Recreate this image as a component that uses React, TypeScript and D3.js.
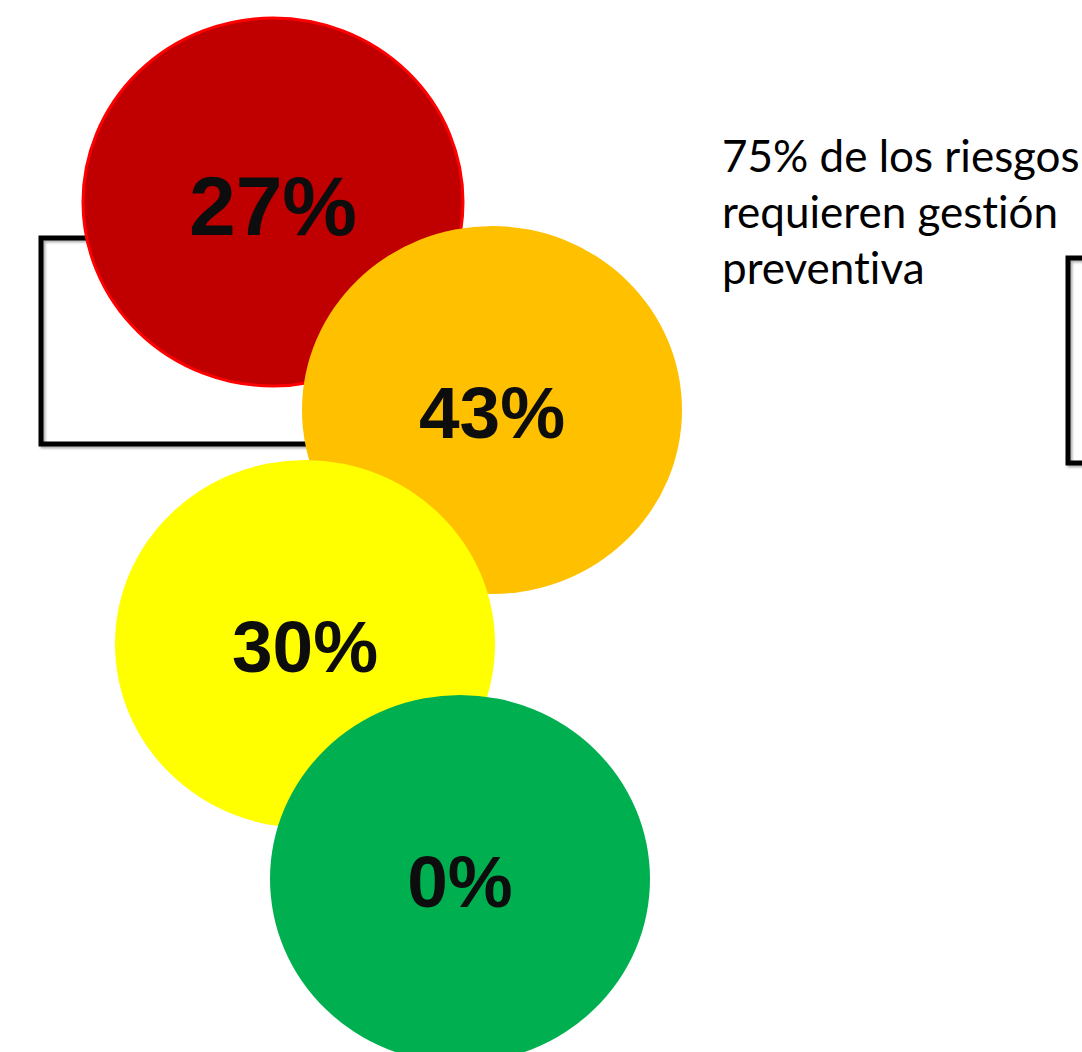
import { useEffect, useRef } from "react";
import * as d3 from "d3";

const WIDTH = 1082;
const HEIGHT = 1052;

// risk levels, top to bottom
const levels = ["Alto", "Medio-alto", "Medio", "Bajo"];
const shares = [0.27, 0.43, 0.3, 0.0];
const fills = ["#c00000", "#ffc000", "#ffff00", "#00b050"];
const strokes = ["#ff0000", "none", "none", "none"];
const labelSizes = [84, 73, 73, 73];

const noteLines = ["75% de los riesgos", "requieren gestión", "preventiva"];

export default function App() {
  const svgRef = useRef<SVGSVGElement>(null);

  useEffect(() => {
    if (!svgRef.current) return;
    const svg = d3.select(svgRef.current);
    svg.selectAll("*").remove();

    // layout of the "traffic light" bubbles
    const cx = d3.scaleOrdinal<string, number>().domain(levels).range([273, 492, 305, 460]);
    const cy = d3.scaleOrdinal<string, number>().domain(levels).range([202, 410, 644, 879]);
    const rx = 190;
    const ry = 184;

    const defs = svg.append("defs");
    const shadow = defs.append("filter").attr("id", "shadow").attr("x", "-10%").attr("y", "-10%").attr("width", "120%").attr("height", "120%");
    shadow.append("feDropShadow").attr("dx", 2).attr("dy", 2).attr("stdDeviation", 1.2).attr("flood-color", "#000").attr("flood-opacity", 0.3);

    // brackets
    const bracket = d3.line();
    svg.append("path")
      .attr("d", bracket([[88, 238], [41, 238], [41, 444], [310, 444]]))
      .attr("fill", "none")
      .attr("stroke", "#000")
      .attr("stroke-width", 5)
      .attr("filter", "url(#shadow)");
    svg.append("path")
      .attr("d", bracket([[1090, 258], [1068, 258], [1068, 463], [1090, 463]]))
      .attr("fill", "none")
      .attr("stroke", "#000")
      .attr("stroke-width", 5)
      .attr("filter", "url(#shadow)");

    const fmt = d3.format(".0%");

    levels.forEach((lvl, i) => {
      svg.append("ellipse")
        .attr("cx", cx(lvl))
        .attr("cy", cy(lvl))
        .attr("rx", rx)
        .attr("ry", ry)
        .attr("fill", fills[i])
        .attr("stroke", strokes[i])
        .attr("stroke-width", 3);

      svg.append("text")
        .attr("x", cx(lvl))
        .attr("y", cy(lvl) + labelSizes[i] * 0.39)
        .attr("text-anchor", "middle")
        .attr("font-family", "'Liberation Sans', Arial, sans-serif")
        .attr("font-weight", "bold")
        .attr("font-size", labelSizes[i])
        .attr("fill", "#0d0d0d")
        .text(fmt(shares[i]));
    });

    // side note
    const note = svg.append("text")
      .attr("font-family", "Lato, 'Open Sans', sans-serif")
      .attr("font-size", 44)
      .attr("fill", "#000")
      .style("font-variant-ligatures", "none");
    noteLines.forEach((line, i) => {
      note.append("tspan").attr("x", 722).attr("y", 172 + i * 56).text(line);
    });
  }, []);

  return (
    <svg
      ref={svgRef}
      width={WIDTH}
      height={HEIGHT}
      style={{ position: "absolute", left: 0, top: 0, background: "#fff" }}
    />
  );
}
